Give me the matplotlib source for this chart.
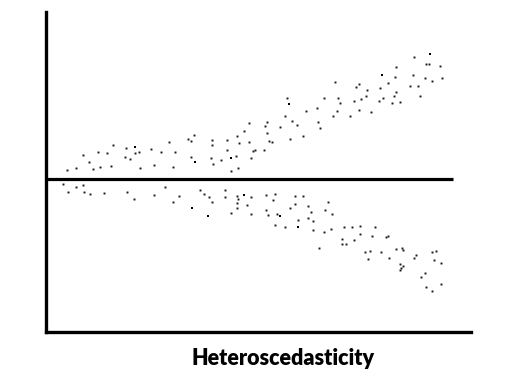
import matplotlib
matplotlib.use("Agg")
import matplotlib.pyplot as plt

# Residuals: x position and distance from the zero line.
upper_x = [67, 80, 37, 52, 61, 89, 93, 79, 84, 43, 65, 54, 47, 30, 21, 94,
           203, 198, 148, 191, 142, 145, 166, 181, 193, 203, 123, 166, 105, 115,
           129, 181, 145, 190, 165, 175, 167, 108, 127, 192, 185,
           289, 241, 278, 292, 294, 271, 260, 291, 239, 287, 246, 221, 272, 251,
           219, 234, 274, 221, 257, 244, 223, 226, 209, 207, 218, 205,
           368, 380, 383, 394, 350, 367, 349, 379, 396, 386, 342, 313, 310, 364,
           372, 334, 321, 350, 320, 337, 348, 374, 315, 308, 333, 346, 354, 313,
           325, 304]
upper_y = [33.5, 31, 24, 26.5, 25.5, 25.5, 26.5, 22, 19.5, 16.5, 13, 11.5, 9.5, 10.5, 8.5, 10.5,
           56, 48, 44, 43, 39.5, 37.5, 38.5, 38.5, 35.5, 36.5, 36.5, 33.5, 29.5, 27,
           26.5, 28.5, 21.5, 23, 20.5, 18.5, 14.5, 13.5, 11.5, 10.5, 7.5,
           96.5, 80.5, 80.5, 81, 75.5, 70.5, 67.5, 67.5, 63, 63, 57.5, 57, 56.5, 54,
           52.5, 52, 50.5, 46, 42.5, 39.5, 37.5, 37, 28.5, 27.5, 28.5, 20.5,
           122, 115, 114.5, 112.5, 111.5, 104, 101.5, 100.5, 100.5, 97.5, 96, 95, 91.5, 93,
           93, 90.5, 88.5, 86.5, 82.5, 80.5, 82.5, 83, 79.5, 77.5, 77.5, 75.5, 76.5, 68.5,
           66.5, 62.5]

lower_x = [17, 30, 37, 22, 38, 44, 58, 81, 88,
           119, 154, 179, 108, 133, 158, 163, 179, 191, 192, 127, 166, 191, 201,
           191, 185,
           205, 220, 229, 227, 249, 257, 282, 249, 262, 244, 220, 279, 265, 205,
           222, 231, 286, 262, 252, 267, 229, 239, 298, 285, 267, 278, 296, 296,
           300, 273,
           306, 314, 329, 314, 326, 340, 342, 308, 319, 324, 335, 350, 356, 357,
           386, 390, 370, 368, 343, 322, 388, 395, 354, 357, 355, 354, 379, 375,
           395, 380, 386]
lower_y = [-5, -8, -6.5, -13, -13, -15, -14, -13, -20.5,
           -8.5, -11.5, -11.5, -16.5, -17.5, -15.5, -18.5, -18.5, -17.5, -20.5, -23.5, -23, -24.5, -26,
           -29.5, -34.5,
           -18.5, -16, -15.5, -21.5, -17.5, -17.5, -23.5, -25.5, -27.5, -29.5, -31.5, -31.5, -33.5, -35.5,
           -36.5, -35.5, -35.5, -39.5, -41.5, -42, -46.5, -48.5, -48.5, -50.5, -51.5, -53.5, -60.5, -65.5,
           -65.5, -69.5,
           -48.5, -47.5, -48.5, -55.5, -57.5, -58.5, -57.5, -61.5, -73, -72.5, -73.5, -70.5, -69.5, -71.5,
           -73.5, -72, -76.5, -79.5, -79.5, -80.5, -81.5, -84.5, -85.5, -87.5, -89.5, -91.5, -94.5, -98.5,
           -105.5, -108.5, -112]

# A few dots are drawn heavier than the rest
big_x = [89, 185, 149, 243, 384, 336, 198, 146, 162, 234, 252]
big_y = [32, 20.5, 16.5, 75, 125, 104, -16, -29, -37, -37, -48]

W, H = 508, 373
fig = plt.figure(figsize=(W / 100, H / 100), dpi=100)
ax = fig.add_axes([45.7 / W, (H - 332) / H, (471 - 45.7) / W, (332 - 11.7) / H])

ax.plot(upper_x, upper_y, 's', color='#1a1a1a', markersize=1.4, markeredgewidth=0)
ax.plot(lower_x, lower_y, 's', color='#1a1a1a', markersize=1.4, markeredgewidth=0)
ax.plot(big_x, big_y, 's', color='#000000', markersize=1.8, markeredgewidth=0)

# zero line
ax.hlines(0, 0, 407, color='black', linewidth=2.3)

ax.set_xlim(0, 425)
ax.set_ylim(-153.5, 166.8)
ax.set_xticks([])
ax.set_yticks([])
for side in ['top', 'right']:
    ax.spines[side].set_visible(False)
for side in ['left', 'bottom']:
    ax.spines[side].set_linewidth(2.4)
    ax.spines[side].set_capstyle('projecting')

fig.text(283.3 / W, 1 - 365 / H, "Heteroscedasticity", ha='center', va='baseline',
         fontsize=15.5, fontweight='heavy', family='Lato')

fig.savefig("out.png", dpi=100)
